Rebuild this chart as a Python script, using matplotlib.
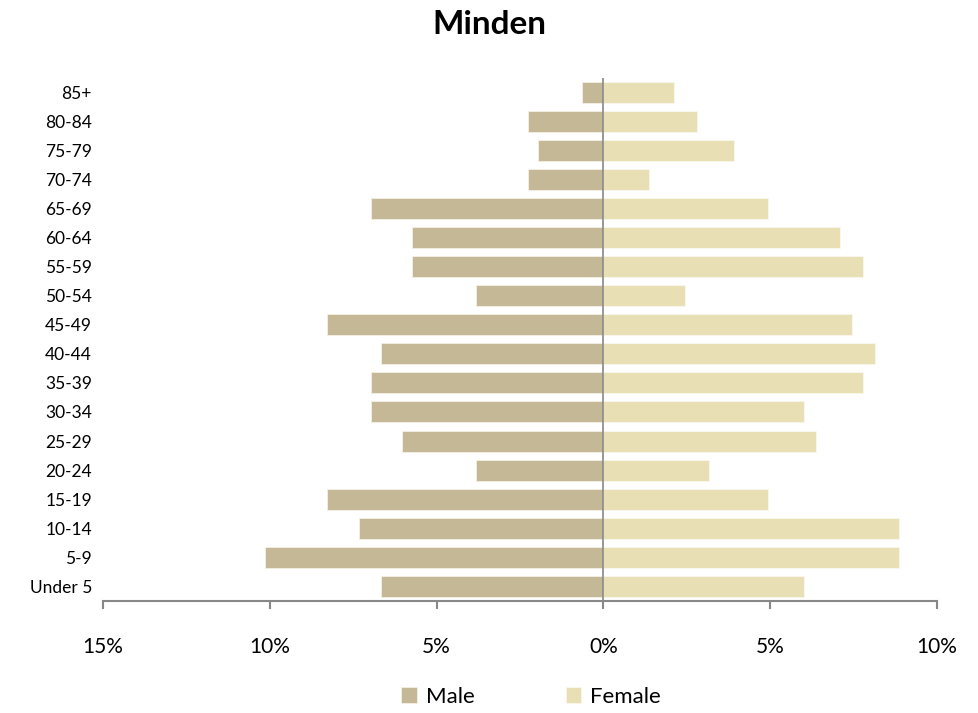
import numpy as np
import matplotlib.pyplot as plt
from matplotlib.ticker import FuncFormatter

# age groups, bottom to top
age_groups = ['Under 5', '5-9', '10-14', '15-19', '20-24', '25-29', '30-34', '35-39',
              '40-44', '45-49', '50-54', '55-59', '60-64', '65-69', '70-74', '75-79',
              '80-84', '85+']
# share of population, percent
male = [6.67, 10.15, 7.33, 8.29, 3.81, 6.04, 6.97, 6.97, 6.67, 8.29, 3.81, 5.73, 5.73,
        6.97, 2.25, 1.95, 2.25, 0.63]
female = [6.0, 8.86, 8.86, 4.92, 3.18, 6.37, 6.0, 7.78, 8.14, 7.45, 2.46, 7.78, 7.09,
          4.92, 1.38, 3.9, 2.82, 2.13]

male_color = '#C4B896'
female_color = '#E8E0B4'
axis_grey = '#888888'

plt.rcParams['font.family'] = ['Lato', 'DejaVu Sans']

fig = plt.figure(figsize=(9.79, 7.13), dpi=100)
ax = fig.add_axes([103 / 979, 1 - 601 / 713, (937 - 103) / 979, (601 - 77.5) / 713])

y = np.arange(len(age_groups))
ax.barh(y, [-m for m in male], height=0.72, color=male_color, edgecolor='#F4F0E4',
        linewidth=0.6, label='Male')
ax.barh(y, female, height=0.72, color=female_color, edgecolor='#FAF8EE',
        linewidth=0.6, label='Female')

ax.set_xlim(-15, 10)
ax.set_ylim(-0.5, len(age_groups) - 0.5)
ax.set_xticks([-15, -10, -5, 0, 5, 10])
ax.xaxis.set_major_formatter(FuncFormatter(lambda v, p: f'{abs(v):.0f}%'))
ax.set_yticks(y)
ax.set_yticklabels(age_groups)

ax.axvline(0, color=axis_grey, linewidth=1.2)
for s in ['top', 'right', 'left']:
    ax.spines[s].set_visible(False)
ax.spines['bottom'].set_color(axis_grey)
ax.spines['bottom'].set_linewidth(1.5)
ax.tick_params(axis='x', direction='out', length=6, width=1.5, color=axis_grey,
               labelsize=15, pad=20)
ax.tick_params(axis='y', length=0, labelsize=12.5, pad=8)

fig.text(0.5, 1 - 25 / 713, 'Minden', ha='center', va='center', fontsize=24,
         fontweight='bold')

fig.legend(loc='center', bbox_to_anchor=(531 / 979, 1 - 697 / 713), ncol=2, frameon=False,
           fontsize=16, handlelength=0.7, handleheight=0.7, columnspacing=4.1,
           handletextpad=0.4)

fig.savefig('out.png', dpi=100)
